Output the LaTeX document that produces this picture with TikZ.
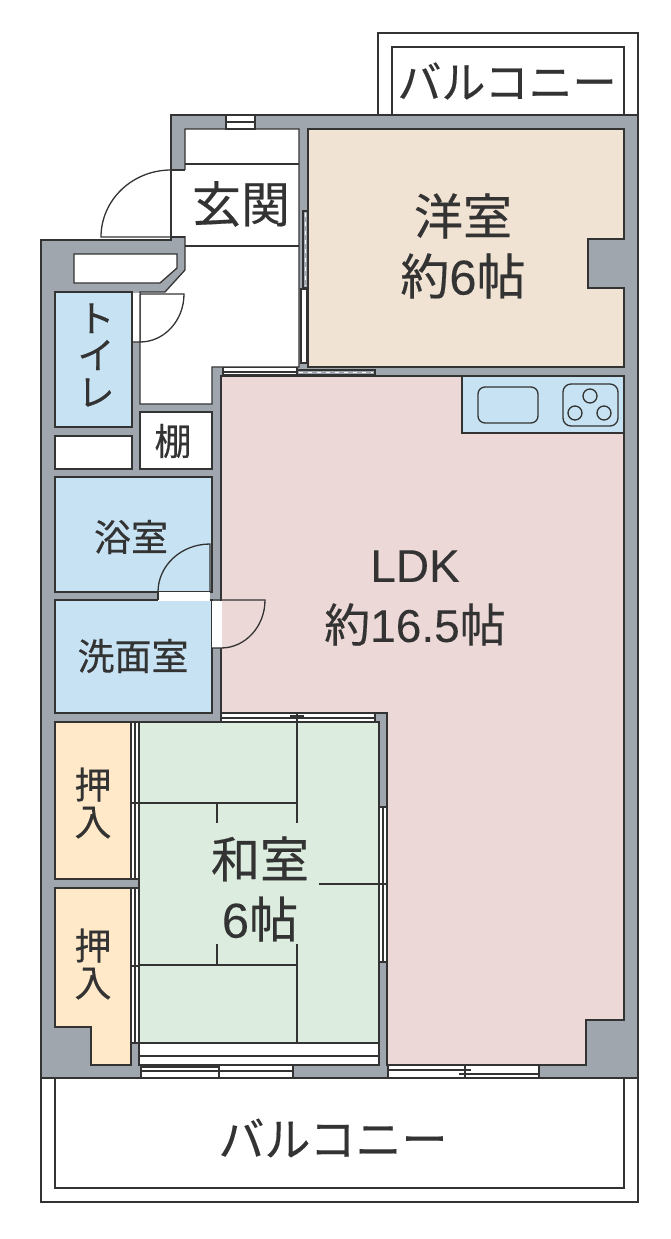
\documentclass[tikz,border=0pt]{standalone}
\usepackage{xcolor}
\usepackage{fontspec}
\setmainfont[FakeBold=0.15]{Liberation Sans}
\newfontfamily\cjk[FakeBold=0.35]{Noto Sans CJK JP}
\definecolor{wallgray}{HTML}{9FA6AD}
\definecolor{inkline}{HTML}{333333}
\definecolor{westroom}{HTML}{F1E3D3}
\definecolor{ldkroom}{HTML}{ECD9D7}
\definecolor{wetroom}{HTML}{C7E2F2}
\definecolor{tatami}{HTML}{DCEDE0}
\definecolor{closet}{HTML}{FFE9C8}
\tikzset{
	line/.style		= {draw=inkline,line width=1.3pt},
	wall/.style		= {line,fill=wallgray},
	white room/.style	= {line,fill=white},
	west room/.style	= {line,fill=westroom},
	ldk room/.style		= {line,fill=ldkroom},
	wet room/.style		= {line,fill=wetroom},
	tatami room/.style	= {line,fill=tatami},
	closet room/.style	= {line,fill=closet},
	gap/.style		= {fill=white},
	dash gap/.style		= {draw=white,line width=1.3pt,dash pattern=on 4pt off 5pt},
	big label/.style	= {inner sep=0pt,align=center,font=\fontsize{49}{60}\selectfont,text=inkline},
	small label/.style	= {inner sep=0pt,align=center,font=\fontsize{37}{37}\selectfont,text=inkline}
}
\begin{document}
\begin{tikzpicture}[x=1pt,y=-1pt]
	\useasboundingbox (0,0) rectangle (670,1239);
	
	% balconies
	\draw[white room] (378,115) -- (378,33) -- (638,33) -- (638,115);
	\draw[line] (392,115) -- (392,47) -- (624,47) -- (624,115);
	\draw[white room] (41,1078) -- (41,1202) -- (638,1202) -- (638,1078);
	\draw[line] (55,1078) -- (55,1188) -- (624,1188) -- (624,1078);
	
	% walls
	\draw[wall] (171,115) -- (638,115) -- (638,1078) -- (41,1078) -- (41,240) -- (171,240) -- cycle;
	
	% entrance and hall
	\draw[white room] (185,129) -- (299,129) -- (299,367) -- (212,367) -- (212,404) -- (140,404) -- (140,292) -- (165,292) -- (185,270) -- cycle;
	\draw[line] (185,164) -- (299,164);
	\draw[line] (185,246) -- (299,246);
	\fill[gap] (172,170) rectangle (185.6,236);
	\draw[line] (171,170) -- (185,170);
	\draw[line] (171,170) -- (171,237) -- (185,237);
	\draw[line] (171,237) -- (101,237) arc[start angle=180,end angle=270,x radius=70,y radius=67];
	\draw[white room] (226,115) rectangle (255,129);
	\draw[line] (226,122) -- (255,122);
	
	% rooms
	\draw[west room] (308,129) -- (624,129) -- (624,239) -- (588,239) -- (588,288) -- (624,288) -- (624,367) -- (308,367) -- cycle;
	\draw[ldk room] (221,376) -- (624,376) -- (624,1020) -- (586,1020) -- (586,1065) -- (387,1065) -- (387,713) -- (221,713) -- cycle;
	\draw[wet room] (462,376) rectangle (624,433);
	\draw[line,rounded corners=7pt] (478,387) rectangle (538,423);
	\draw[line,rounded corners=8pt] (563,384) rectangle (618,426);
	\draw[line] (590,396) circle (7);
	\draw[line] (575,413) circle (7);
	\draw[line] (604,413) circle (7);
	
	\draw[wet room] (55,292) rectangle (132,427);
	\draw[white room] (55,436) rectangle (132,469);
	\draw[white room] (74,254) -- (177,254) -- (177,268) -- (160,283) -- (74,283) -- cycle;
	\draw[white room] (140,412) rectangle (212,469);
	\draw[wet room] (55,477) rectangle (212,592);
	\draw[wet room] (55,600) rectangle (212,713);
	
	% toilet door
	\fill[gap] (132.7,293) rectangle (140,342);
	\draw[line] (132,342) -- (140,342) -- (140,294) -- (184,294) arc[start angle=0,end angle=90,x radius=44,y radius=48];
	
	% bath door
	\fill[gap] (158,591.5) rectangle (210,600.5);
	\draw[line] (158,592) -- (158,600);
	\draw[line] (158,592) arc[start angle=180,end angle=270,x radius=52,y radius=48] -- (210,592);
	
	% washroom door
	\fill[gap] (211.5,600.5) rectangle (221.5,648);
	\draw[line] (212,600) -- (265,600) arc[start angle=0,end angle=90,x radius=44,y radius=48] -- (212,648);
	
	% sliding doors of the western room
	\draw[wall] (303,211) rectangle (308,288);
	\draw[dash gap] (305.5,213) -- (305.5,286);
	\draw[white room] (301,289) rectangle (307,363);
	\draw[white room] (223,367.5) rectangle (297,375);
	\draw[line] (223,372) -- (297,372);
	\draw[wall] (297,370) rectangle (375,375);
	\draw[dash gap] (299,372.5) -- (373,372.5);
	
	% japanese room
	\draw[tatami room] (139,722) rectangle (379,1043);
	\draw[white room] (139,1043) rectangle (379,1065);
	\draw[line] (139,1056) -- (379,1056);
	\draw[line] (297,722) -- (297,823);
	\draw[line] (139,803) -- (297,803);
	\draw[line] (217,803) -- (217,823);
	\draw[line] (319,884) -- (379,884);
	\draw[line] (217,944) -- (217,965);
	\draw[line] (139,965) -- (297,965);
	\draw[line] (297,944) -- (297,1043);
	
	% closets
	\draw[closet room] (55,722) rectangle (131,879);
	\draw[closet room] (55,888) -- (131,888) -- (131,1065) -- (91,1065) -- (91,1027) -- (55,1027) -- cycle;
	\foreach \ytop/\ybot/\ytick in {722/879/803,888/1043/966}{
		\draw[white room] (131,\ytop) rectangle (139,\ybot);
		\draw[line] (135,\ytop) -- (135,\ybot);
		\draw[line] (135,\ytick-7) -- (135,\ytick+7);
		\draw[line] (131,\ytick) -- (139,\ytick);
	}
	
	% sliding doors to the living room
	\draw[white room] (221,713) rectangle (375,722);
	\draw[line] (221,718) -- (375,718);
	\draw[line] (297,714) -- (297,722);
	\draw[line] (290,716) -- (304,716);
	\draw[white room] (379,807) rectangle (387,962);
	\draw[line] (383,807) -- (383,962);
	\draw[line] (379,884) -- (387,884);
	\draw[line] (383,877) -- (383,891);
	
	% windows to the balcony
	\draw[white room] (141,1065) rectangle (293,1078);
	\draw[line] (141,1067) -- (219,1067);
	\draw[line] (141,1071) -- (293,1071);
	\draw[line] (219,1065) -- (219,1078);
	\draw[line] (213,1071) -- (226,1071);
	\draw[white room] (388,1065) rectangle (539,1078);
	\draw[line] (388,1070) -- (471,1070);
	\draw[line] (459,1074) -- (539,1074);
	\draw[line] (465,1065) -- (465,1078);
	
	% labels
	\node[big label,font=\fontsize{44}{44}\selectfont] (balcony top) at (507,81) {\cjk バルコニー};
	\node[big label] (entrance) at (241,204) {\cjk 玄関};
	\node[big label] (west) at (463,246) {{\cjk 洋室}\\{\cjk 約}6{\cjk 帖}};
	\node[big label,font=\fontsize{46}{60}\selectfont] (ldk) at (415,598) {LDK\\{\cjk 約}16.5{\cjk 帖}};
	\node[big label] (japanese) at (260,889) {{\cjk 和室}\\6{\cjk 帖}};
	\node[big label,font=\fontsize{46}{46}\selectfont] (balcony bottom) at (333,1138) {\cjk バルコニー};
	\node[small label] (toilet) at (96,355) {\cjk ト\\\cjk イ\\\cjk レ};
	\node[small label] (shelf) at (173,441) {\cjk 棚};
	\node[small label] (bath) at (131,537) {\cjk 浴室};
	\node[small label] (wash) at (133,656) {\cjk 洗面室};
	\node[small label] (closet one) at (93,803) {\cjk 押\\\cjk 入};
	\node[small label] (closet two) at (93,964) {\cjk 押\\\cjk 入};
\end{tikzpicture}
\end{document}
